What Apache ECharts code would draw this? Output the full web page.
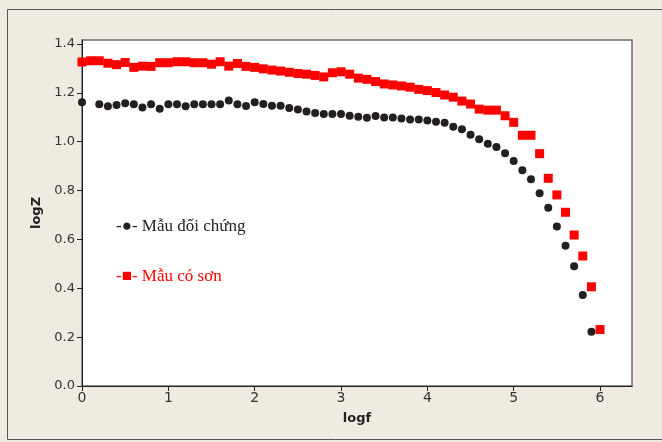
<!DOCTYPE html>
<html>
<head>
<meta charset="utf-8">
<script src="https://cdn.jsdelivr.net/npm/echarts@6/dist/echarts.min.js"></script>
<style>
html,body{margin:0;padding:0;background:#efebe0;}
#c{width:662px;height:442px;}
</style>
</head>
<body>
<div id="c"></div>
<script>
// logf values (step 0.1)
const logfRed = [0,0.1,0.2,0.3,0.4,0.5,0.6,0.7,0.8,0.9,1.0,1.1,1.2,1.3,1.4,1.5,1.6,1.7,1.8,1.9,2.0,2.1,2.2,2.3,2.4,2.5,2.6,2.7,2.8,2.9,3.0,3.1,3.2,3.3,3.4,3.5,3.6,3.7,3.8,3.9,4.0,4.1,4.2,4.3,4.4,4.5,4.6,4.7,4.8,4.9,5.0,5.1,5.2,5.3,5.4,5.5,5.6,5.7,5.8,5.9,6.0];
const logZRed = [1.326,1.331,1.331,1.321,1.315,1.324,1.304,1.309,1.308,1.323,1.323,1.327,1.327,1.323,1.323,1.317,1.327,1.309,1.320,1.308,1.304,1.298,1.293,1.289,1.284,1.279,1.276,1.271,1.265,1.282,1.286,1.276,1.260,1.255,1.246,1.236,1.232,1.228,1.223,1.214,1.209,1.201,1.191,1.182,1.166,1.154,1.133,1.129,1.129,1.106,1.079,1.026,1.026,0.951,0.850,0.782,0.711,0.618,0.532,0.406,0.231];
const logfBlack = [0,0.2,0.3,0.4,0.5,0.6,0.7,0.8,0.9,1.0,1.1,1.2,1.3,1.4,1.5,1.6,1.7,1.8,1.9,2.0,2.1,2.2,2.3,2.4,2.5,2.6,2.7,2.8,2.9,3.0,3.1,3.2,3.3,3.4,3.5,3.6,3.7,3.8,3.9,4.0,4.1,4.2,4.3,4.4,4.5,4.6,4.7,4.8,4.9,5.0,5.1,5.2,5.3,5.4,5.5,5.6,5.7,5.8,5.9];
const logZBlack = [1.161,1.153,1.145,1.150,1.157,1.153,1.140,1.153,1.135,1.153,1.153,1.145,1.153,1.153,1.153,1.153,1.168,1.153,1.146,1.161,1.154,1.147,1.147,1.138,1.132,1.123,1.117,1.113,1.113,1.113,1.106,1.102,1.098,1.105,1.099,1.099,1.095,1.091,1.091,1.087,1.081,1.077,1.061,1.051,1.028,1.010,0.991,0.978,0.953,0.921,0.883,0.846,0.789,0.729,0.653,0.574,0.490,0.372,0.222];
const xTicks = [0,1,2,3,4,5,6];
const yTicks = [0,0.2,0.4,0.6,0.8,1.0,1.2,1.4];
const seriesNames = ['Mẫu đối chứng','Mẫu có sơn'];

const chart = echarts.init(document.getElementById('c'));
chart.setOption({
  backgroundColor:'#efebe0',
  animation:false,
  grid:{left:82,top:40,right:30,bottom:56,show:true,backgroundColor:'#fff',borderColor:'#6e6e6e',borderWidth:1.5},
  xAxis:{type:'value',min:0,max:6.37,
    name:'logf',nameLocation:'middle',nameGap:26,
    nameTextStyle:{fontFamily:'DejaVu Sans',fontWeight:'bold',fontSize:13,color:'#222'},
    axisLine:{show:true,lineStyle:{color:'#222',width:1}},
    axisTick:{show:true,length:5,lineStyle:{color:'#222'},customValues:xTicks},
    axisLabel:{customValues:xTicks,margin:5,fontFamily:'DejaVu Sans',fontSize:14,color:'#333'},
    splitLine:{show:false}},
  yAxis:{type:'value',min:0,max:1.416,
    name:'logZ',nameLocation:'middle',nameGap:39,nameRotate:90,
    nameTextStyle:{fontFamily:'DejaVu Sans',fontWeight:'bold',fontSize:13,color:'#222'},
    axisLine:{show:true,lineStyle:{color:'#222',width:1}},
    axisTick:{show:true,length:5,lineStyle:{color:'#222'},customValues:yTicks},
    axisLabel:{customValues:yTicks,margin:7,formatter:v=>v.toFixed(1),fontFamily:'DejaVu Sans',fontSize:13,color:'#333'},
    splitLine:{show:false}},
  graphic:[
    {type:'rect',z:-10,shape:{x:7.5,y:9.5,width:700,height:430},style:{fill:'none',stroke:'#555',lineWidth:1}},
    {type:'text',left:116,top:218,style:{text:'-●- '+seriesNames[0],fill:'#222',font:'17px "Liberation Serif"'}},
    {type:'text',left:116,top:268,style:{text:'-■- '+seriesNames[1],fill:'#ff0000',font:'17px "Liberation Serif"'}}
  ],
  series:[
    {name:seriesNames[0],type:'scatter',symbol:'circle',symbolSize:8,itemStyle:{color:'#231f20',opacity:1},
     data:logfBlack.map((x,i)=>[x,logZBlack[i]])},
    {name:seriesNames[1],type:'scatter',symbol:'rect',symbolSize:9,itemStyle:{color:'#ff0000',opacity:1},
     data:logfRed.map((x,i)=>[x,logZRed[i]])}
  ]
});
</script>
</body>
</html>
